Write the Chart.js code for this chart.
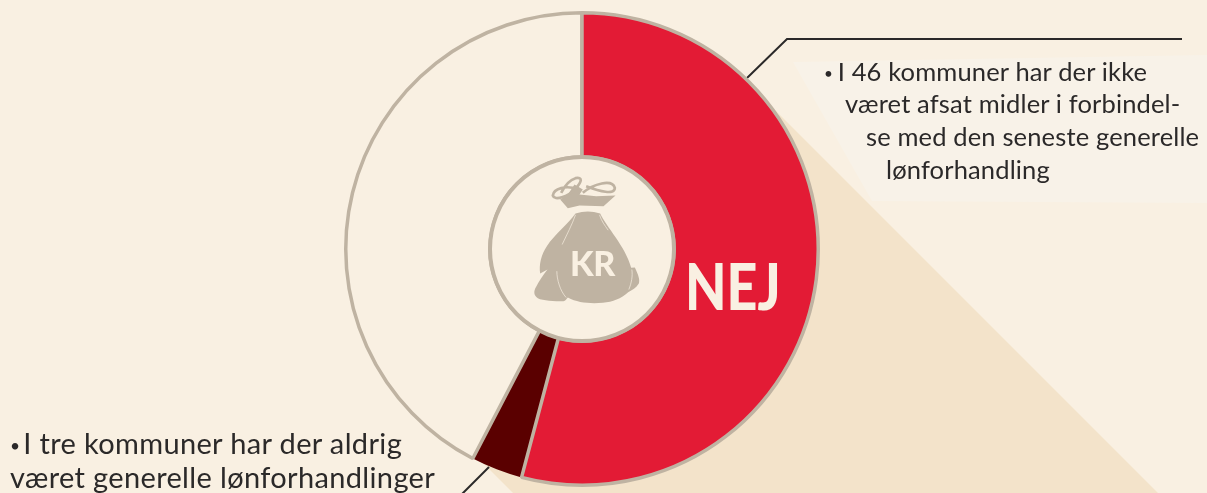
<!DOCTYPE html>
<html>
<head>
<meta charset="utf-8">
<script src="https://cdn.jsdelivr.net/npm/chart.js@4/dist/chart.umd.min.js"></script>
<style>
  html, body { margin: 0; padding: 0; background: #f9f0e2; }
  #wrap { position: relative; width: 1207px; height: 493px; overflow: hidden; }
  #grafik { position: absolute; left: 0; top: 0; }
  .txt { position: absolute; white-space: nowrap; color: #2b2929; font-family: Lato, sans-serif; }
  .txt span { font-size: 60%; vertical-align: 2px; }
  .note1 { font-size: 25.5px; letter-spacing: 0.15px; line-height: 33px; }
  .note1 span { margin-right: -2px; }
  .note2 { font-size: 29px; line-height: 34px; letter-spacing: 0.35px; }
  .note2 span { margin-right: -5px; }
  .nej { font-weight: 900; color: #f9f0e2; font-size: 64px; line-height: 64px; transform: scaleX(0.84); transform-origin: left top; }
  .kr { font-weight: 900; color: #f9f0e2; font-size: 34px; line-height: 34px; letter-spacing: -0.5px; }
</style>
</head>
<body>
<div id="wrap">
  <canvas id="grafik" width="1207" height="493"></canvas>
  <div class="txt note1" style="left:824px;top:55px"><span>•</span> I 46 kommuner har der ikke</div>
  <div class="txt note1" style="left:845px;top:87px">været afsat midler i forbindel-</div>
  <div class="txt note1" style="left:866px;top:120px">se med den seneste generelle</div>
  <div class="txt note1" style="left:886px;top:153px">lønforhandling</div>
  <div class="txt note2" style="left:10px;top:426px"><span>•</span> I tre kommuner har der aldrig</div>
  <div class="txt note2" style="left:10px;top:460px">været generelle lønforhandlinger</div>
  <div class="txt nej" style="left:685px;top:254px">NEJ</div>
  <div class="txt kr" style="left:570px;top:246px">KR</div>
</div>
<script>
// Svar i kommunerne, i den rækkefølge de tegnes (rødt skal ligge øverst)
const kategorier = ['Aldrig forhandlinger', 'Ja', 'Nej'];
const antal = [3, 36, 46];
const farver = ['#5a0000', '#f9f0e2', '#e31b35'];
const kantBredde = [0, 3.5, 3.5];

const kant = '#bfb3a2';
const baggrund = '#f9f0e2';

// Pose-ikonet, koordinater fra et 3x udsnit
const poseKrop = new Path2D('M408 222 Q445 210 482 222 C500 262 558 320 575 385 L586 384 C596 405 602 420 598 432 C590 445 578 452 566 458 C545 478 520 486 490 490 C450 493 415 490 385 474 C380 480 378 484 372 485 C345 485 310 484 295 476 C282 468 282 455 290 442 C298 425 312 405 324 390 L302 402 C298 375 305 345 322 320 C345 285 385 255 408 222 Z');
const poseHals = new Path2D('M362 180 L385 165 L405 135 L430 150 L420 165 L470 170 L528 168 L492 200 L420 198 L385 206 Z');
const poseSlids = ['M408 226 C398 255 382 285 368 315', 'M480 226 C486 245 496 258 506 272', 'M352 395 C352 420 362 455 380 474', 'M577 390 C580 410 576 430 568 450'];
const poseSnor = ['M415 150 C380 135 342 148 340 168 C345 185 385 172 408 148 C428 125 430 112 408 116 C388 122 375 140 365 160', 'M430 160 C462 132 518 118 526 145 C526 168 480 155 440 140'];

// Baggrundsflader, streger og midterikon
const pynt = {
  id: 'pynt',
  beforeDatasetsDraw(chart) {
    const c = chart.ctx;
    c.save();
    // slagskygge
    c.fillStyle = '#f3e3ca';
    c.beginPath();
    c.moveTo(747, 82);
    c.lineTo(1158, 493);
    c.lineTo(513, 493);
    c.lineTo(435, 415);
    c.closePath();
    c.fill();
    // lys tekstflade
    c.fillStyle = '#f8f2e8';
    c.beginPath();
    c.moveTo(793, 62);
    c.lineTo(1207, 55);
    c.lineTo(1207, 203);
    c.lineTo(872, 201);
    c.closePath();
    c.fill();
    // henvisningsstreger
    c.strokeStyle = '#2b2929';
    c.lineWidth = 2;
    c.beginPath();
    c.moveTo(747, 78);
    c.lineTo(787, 39);
    c.lineTo(1182, 39);
    c.stroke();
    c.beginPath();
    c.moveTo(489, 467);
    c.lineTo(462, 494);
    c.stroke();
    c.restore();
  },
  afterDatasetsDraw(chart) {
    const c = chart.ctx;
    const arc = chart.getDatasetMeta(0).data[0];
    c.save();
    c.fillStyle = baggrund;
    c.strokeStyle = kant;
    c.lineWidth = 4;
    c.beginPath();
    c.arc(arc.x, arc.y, arc.innerRadius, 0, Math.PI * 2);
    c.fill();
    c.stroke();
    // posen
    c.translate(arc.x - 142.5, arc.y - 109.5);
    c.scale(1 / 3, 1 / 3);
    c.fillStyle = kant;
    c.fill(poseKrop);
    c.fill(poseHals);
    c.strokeStyle = kant;
    c.lineWidth = 8;
    poseSnor.forEach(p => c.stroke(new Path2D(p)));
    c.strokeStyle = baggrund;
    c.lineWidth = 2;
    poseSlids.forEach(p => c.stroke(new Path2D(p)));
    c.restore();
  }
};

new Chart(document.getElementById('grafik'), {
  type: 'doughnut',
  data: {
    labels: kategorier,
    datasets: [{
      data: antal,
      backgroundColor: farver,
      borderColor: kant,
      borderWidth: kantBredde,
      borderAlign: 'center'
    }]
  },
  options: {
    responsive: false,
    animation: false,
    cutout: 92,
    rotation: 46 / 85 * 360,
    layout: { padding: { left: 344, right: 387, top: 11, bottom: 6 } },
    plugins: { legend: { display: false }, tooltip: { enabled: false } }
  },
  plugins: [pynt]
});
</script>
</body>
</html>
